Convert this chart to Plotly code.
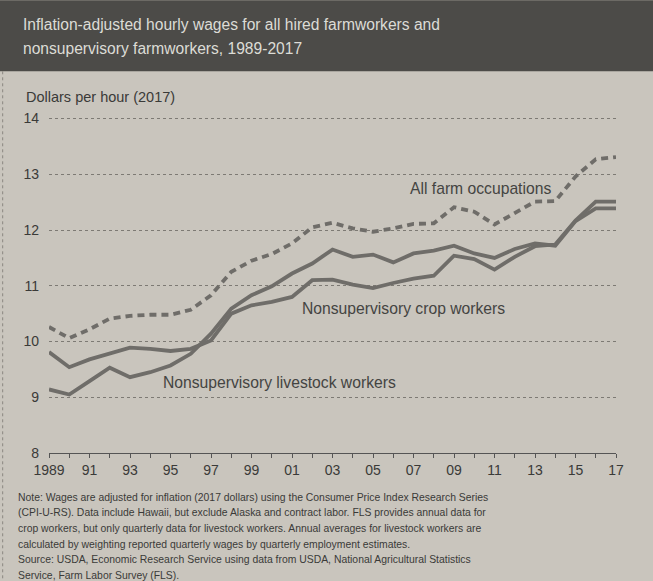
import plotly.graph_objects as go

years = list(range(1989, 2018))

all_farm = [10.26, 10.06, 10.22, 10.41, 10.46, 10.48, 10.48, 10.57, 10.83, 11.25,
            11.45, 11.57, 11.76, 12.05, 12.13, 12.03, 11.97, 12.03, 12.11, 12.12,
            12.41, 12.33, 12.10, 12.30, 12.51, 12.52, 12.96, 13.27, 13.31]

crop = [9.81, 9.54, 9.68, 9.78, 9.89, 9.87, 9.83, 9.87, 10.02, 10.50,
        10.65, 10.71, 10.80, 11.10, 11.11, 11.02, 10.96, 11.05, 11.13, 11.18,
        11.54, 11.48, 11.29, 11.52, 11.71, 11.74, 12.17, 12.51, 12.51]

livestock = [9.14, 9.05, 9.29, 9.53, 9.36, 9.45, 9.57, 9.78, 10.14, 10.59,
             10.83, 10.99, 11.22, 11.40, 11.65, 11.52, 11.56, 11.42, 11.58, 11.63,
             11.72, 11.58, 11.50, 11.66, 11.76, 11.72, 12.16, 12.39, 12.39]

x_tick_vals = years
x_tick_text = ["1989" if y == 1989 else (f"{y % 100:02d}" if y % 2 == 1 else "") for y in years]
y_tick_vals = [8, 9, 10, 11, 12, 13, 14]

title_lines = ["Inflation-adjusted hourly wages for all hired farmworkers and",
               "nonsupervisory farmworkers, 1989-2017"]
note_lines = [
    "Note: Wages are adjusted for inflation (2017 dollars) using the Consumer Price Index Research Series",
    "(CPI-U-RS). Data include Hawaii, but exclude Alaska and contract labor. FLS provides annual data for",
    "crop workers, but only quarterly data for livestock workers. Annual averages for livestock workers are",
    "calculated by weighting reported quarterly wages by quarterly employment estimates.",
    "Source: USDA, Economic Research Service using data from USDA, National Agricultural Statistics",
    "Service, Farm Labor Survey (FLS).",
]

W, H = 653, 581
BG = "#c9c5bd"
LINE = "#6f6d69"
TXT = "#3a3a38"
FONT = "Liberation Sans, Arial, sans-serif"

ml, mr, mt, mb = 49.3, 37, 112.7, 128.3
pw, ph = W - ml - mr, H - mt - mb

def px_x(px):
    return (px - ml) / pw

def px_y(py):
    return (H - mb - py) / ph

fig = go.Figure()
fig.add_trace(go.Scatter(x=years, y=all_farm, mode="lines", name="All farm occupations",
                         line=dict(color=LINE, width=3.8, dash="7px,5px"), showlegend=False))
fig.add_trace(go.Scatter(x=years, y=crop, mode="lines", name="Nonsupervisory crop workers",
                         line=dict(color=LINE, width=3.8), showlegend=False))
fig.add_trace(go.Scatter(x=years, y=livestock, mode="lines", name="Nonsupervisory livestock workers",
                         line=dict(color=LINE, width=3.8), showlegend=False))

annotations = []
for i, t in enumerate(title_lines):
    annotations.append(dict(text=t, xref="paper", yref="paper", x=px_x(21), y=px_y(24 + 24 * i),
                            xanchor="left", yanchor="middle", showarrow=False,
                            font=dict(family=FONT, size=15.6, color="#dcdcd6")))
annotations.append(dict(text="Dollars per hour (2017)", xref="paper", yref="paper",
                        x=px_x(24), y=px_y(97), xanchor="left", yanchor="middle", showarrow=False,
                        font=dict(family=FONT, size=14.5, color=TXT)))
lab_font = dict(family=FONT, size=15.7, color="#444442")
annotations.append(dict(text="All farm occupations", x=2010.3, y=12.75, showarrow=False, font=lab_font))
annotations.append(dict(text="Nonsupervisory crop workers", x=2006.5, y=10.59, showarrow=False, font=lab_font))
annotations.append(dict(text="Nonsupervisory livestock workers", x=2000.4, y=9.26, showarrow=False, font=lab_font))
for i, t in enumerate(note_lines):
    annotations.append(dict(text=t, xref="paper", yref="paper", x=px_x(16), y=px_y(497 + 15.6 * i),
                            xanchor="left", yanchor="middle", showarrow=False,
                            font=dict(family=FONT, size=10.4, color=TXT)))

shapes = [
    dict(type="rect", xref="paper", yref="paper", x0=px_x(0), x1=px_x(W), y0=px_y(0), y1=px_y(71),
         fillcolor="#4c4b48", line=dict(width=0), layer="below"),
    dict(type="line", xref="paper", yref="paper", x0=px_x(3), x1=px_x(3), y0=px_y(71), y1=px_y(H),
         line=dict(color="#8a8780", width=1, dash="dot")),
]

fig.update_layout(
    width=W, height=H,
    margin=dict(l=ml, r=mr, t=mt, b=mb, pad=0),
    paper_bgcolor=BG, plot_bgcolor=BG,
    annotations=annotations, shapes=shapes,
    font=dict(family=FONT, color=TXT),
    xaxis=dict(range=[1989, 2017], tickvals=x_tick_vals, ticktext=x_tick_text,
               ticks="outside", ticklen=4, tickcolor="#555", tickwidth=1,
               showgrid=False, zeroline=False, showline=True, linecolor="#555", linewidth=1.2,
               tickfont=dict(family=FONT, size=14, color=TXT)),
    yaxis=dict(range=[8, 14.1], tickvals=y_tick_vals, ticks="", showline=False, zeroline=False,
               showgrid=True, gridcolor="#7d7a74", gridwidth=1, griddash="dot",
               ticklabelstandoff=9, tickfont=dict(family=FONT, size=14, color=TXT)),
)

fig.write_html("out.html", config={"displayModeBar": False},
               post_script="document.body.style.margin='0';document.body.style.padding='0';"
                           "document.body.style.overflow='hidden';")
